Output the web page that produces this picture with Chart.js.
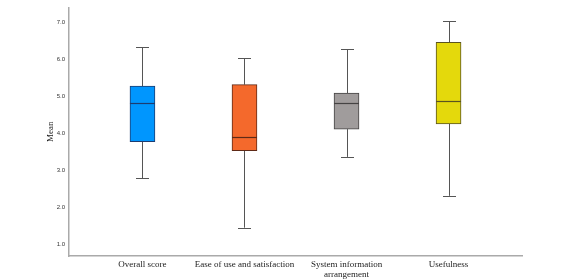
<!DOCTYPE html>
<html lang="en">
<head>
<meta charset="UTF-8">
<title>Mean scores box plot</title>
<script src="https://cdn.jsdelivr.net/npm/chart.js"></script>
<style>
  html, body { margin: 0; padding: 0; background: #fff; }
  #wrap { width: 566px; height: 279px; }
</style>
</head>
<body>
<div id="wrap"><canvas id="boxChart"></canvas></div>
<script>
// data
const categories = ['Overall score', 'Ease of use and satisfaction', ['System information', 'arrangement'], 'Usefulness'];
const mins    = [2.78, 1.45, 3.36, 2.31];
const q1s     = [3.77, 3.53, 4.11, 4.25];
const medians = [4.81, 3.90, 4.81, 4.88];
const q3s     = [5.27, 5.31, 5.08, 6.45];
const maxs    = [6.32, 6.02, 6.27, 7.02];
const yTicks  = [1, 2, 3, 4, 5, 6, 7];

const fills   = ['#0096fe', '#f4692c', '#a09c9c', '#e4d90c'];
const borders = ['#1d3c70', '#5e2a17', '#454343', '#5a5320'];

// whiskers, caps and median lines drawn with the chart's own scales
const whiskerPlugin = {
   id: 'whiskers',
   beforeDatasetsDraw(chart) {
      const { ctx, scales: { x, y } } = chart;
      ctx.save();
      ctx.lineWidth = 1;
      ctx.strokeStyle = '#555';
      categories.forEach((c, i) => {
         const cx = Math.round(x.getPixelForValue(i + 1)) + 0.5;
         const capHalf = 6.5;
         [[mins[i], q1s[i]], [q3s[i], maxs[i]]].forEach(([a, b]) => {
            ctx.beginPath();
            ctx.moveTo(cx, y.getPixelForValue(a));
            ctx.lineTo(cx, y.getPixelForValue(b));
            ctx.stroke();
         });
         [mins[i], maxs[i]].forEach(v => {
            const py = Math.round(y.getPixelForValue(v)) + 0.5;
            ctx.beginPath();
            ctx.moveTo(cx - capHalf, py);
            ctx.lineTo(cx + capHalf, py);
            ctx.stroke();
         });
      });
      ctx.restore();
   },
   afterDatasetsDraw(chart) {
      const { ctx, scales: { x, y } } = chart;
      ctx.save();
      ctx.lineWidth = 1.2;
      categories.forEach((c, i) => {
         const cx = x.getPixelForValue(i + 1);
         const py = Math.round(y.getPixelForValue(medians[i])) + 0.5;
         ctx.strokeStyle = borders[i];
         ctx.beginPath();
         ctx.moveTo(cx - 12.5, py);
         ctx.lineTo(cx + 12.5, py);
         ctx.stroke();
      });
      ctx.restore();
   }
};

const ctx = document.getElementById('boxChart').getContext('2d');
new Chart(ctx, {
   type: 'bar',
   data: {
      datasets: [{
         data: categories.map((c, i) => ({ x: i + 1, y: [q1s[i], q3s[i]] })),
         backgroundColor: fills,
         borderColor: borders,
         borderWidth: 1,
         borderSkipped: false,
         barThickness: 25
      }]
   },
   options: {
      responsive: true,
      maintainAspectRatio: false,
      animation: false,
      layout: { padding: { top: 0, right: 44, bottom: 0, left: 0 } },
      plugins: { legend: { display: false }, tooltip: { enabled: false } },
      scales: {
         x: {
            type: 'linear',
            offset: false,
            min: 0.28,
            max: 4.72,
            afterBuildTicks: s => { s.ticks = categories.map((c, i) => ({ value: i + 1 })); },
            afterFit: s => { s.height = 23; },
            grid: { display: false, drawTicks: false },
            border: { display: true, color: '#aaa', width: 1.5 },
            ticks: {
               callback: v => categories[v - 1],
               maxRotation: 0,
               autoSkip: false,
               padding: 4,
               color: '#222',
               font: { family: 'Liberation Serif', size: 9, lineHeight: 1.1 }
            }
         },
         y: {
            min: 0.686,
            max: 7.39,
            afterBuildTicks: s => { s.ticks = yTicks.map(v => ({ value: v })); },
            afterFit: s => { s.width = 69; },
            grid: { display: false, drawTicks: false },
            border: { display: true, color: '#aaa', width: 1.5 },
            title: {
               display: true,
               text: 'Mean',
               color: '#222',
               padding: { top: 45, bottom: 0 },
               font: { family: 'Liberation Serif', size: 9 }
            },
            ticks: {
               callback: v => v.toFixed(1),
               padding: 4,
               color: '#333',
               font: { family: 'Liberation Sans', size: 6 }
            }
         }
      }
   },
   plugins: [whiskerPlugin]
});
</script>
</body>
</html>
